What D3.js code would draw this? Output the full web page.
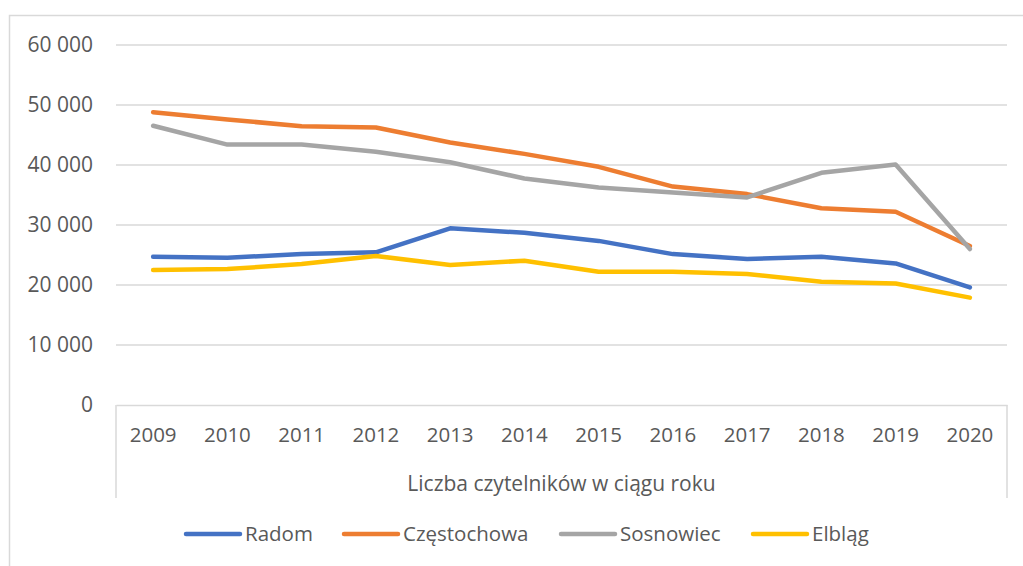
<!DOCTYPE html>
<html lang="pl">
  <head>
    <meta charset="utf-8">
    <title>Liczba czytelników</title>
    <script src="https://d3js.org/d3.v7.min.js"></script>
    <style>
      body { margin: 0; background: #fff; }
      svg text { font-family: "Open Sans", sans-serif; fill: #595959; }
    </style>
  </head>
  <body>
    <div id="chart"></div>
    <script>
      // Data
      const years = ['2009', '2010', '2011', '2012', '2013', '2014', '2015', '2016', '2017', '2018', '2019', '2020'];
      const radom = [24700, 24550, 25150, 25450, 29450, 28700, 27350, 25150, 24350, 24700, 23600, 19600];
      const czestochowa = [48800, 47600, 46450, 46250, 43750, 41850, 39700, 36400, 35150, 32800, 32200, 26500];
      const sosnowiec = [46550, 43400, 43400, 42200, 40450, 37750, 36250, 35400, 34600, 38700, 40100, 26000];
      const elblag = [22500, 22650, 23500, 24850, 23350, 24050, 22200, 22200, 21850, 20550, 20250, 17900];
      const seriesNames = ['Radom', 'Częstochowa', 'Sosnowiec', 'Elbląg'];
      const yTicks = [0, 10000, 20000, 30000, 40000, 50000, 60000];
      const groupLabel = 'Liczba czytelników w ciągu roku';

      const colors = ['#4472C4', '#ED7D31', '#A5A5A5', '#FFC000'];
      const series = [radom, czestochowa, sosnowiec, elblag];

      const W = 1023, H = 566;
      const plotLeft = 116, plotRight = 1007, plotTop = 45, plotBottom = 405;

      const svg = d3.select('#chart').append('svg')
        .attr('width', W)
        .attr('height', H);

      // chart frame (clipped by the picture on right and bottom)
      svg.append('rect')
        .attr('x', 9.5).attr('y', 15.5)
        .attr('width', 1100).attr('height', 700)
        .attr('fill', 'none')
        .attr('stroke', '#D9D9D9')
        .attr('stroke-width', 1.5);

      const x = d3.scaleBand().domain(years).range([plotLeft, plotRight]);
      const y = d3.scaleLinear().domain([0, 60000]).range([plotBottom, plotTop]);

      const fmt = d3.formatLocale({ decimal: ',', thousands: '\u00a0', grouping: [3], currency: ['', ''] }).format(',d');

      // gridlines
      svg.append('g')
        .selectAll('line')
        .data(yTicks.filter(d => d > 0))
        .enter()
          .append('line')
          .attr('x1', plotLeft).attr('x2', plotRight)
          .attr('y1', d => y(d)).attr('y2', d => y(d))
          .attr('stroke', '#D9D9D9')
          .attr('stroke-width', 1.5);

      // y axis
      const yAxis = svg.append('g')
        .attr('transform', `translate(${plotLeft},0)`)
        .call(d3.axisLeft(y).tickValues(yTicks).tickFormat(fmt).tickSize(0).tickPadding(23));
      yAxis.select('.domain').remove();
      yAxis.selectAll('text')
        .style('font-size', '21px')
        .attr('fill', '#595959');

      // x axis (multi-level category)
      const xAxis = svg.append('g')
        .attr('transform', `translate(0,${plotBottom})`)
        .call(d3.axisBottom(x).tickSize(0).tickPadding(22));
      xAxis.select('.domain')
        .attr('stroke', '#D9D9D9')
        .attr('stroke-width', 1.5);
      xAxis.selectAll('text')
        .style('font-size', '20.5px')
        .attr('fill', '#595959');

      svg.selectAll('.edge')
        .data([plotLeft, plotRight])
        .enter()
          .append('line')
          .attr('class', 'edge')
          .attr('x1', d => d).attr('x2', d => d)
          .attr('y1', plotBottom).attr('y2', 498)
          .attr('stroke', '#D9D9D9')
          .attr('stroke-width', 1.5);

      svg.append('text')
        .attr('x', (plotLeft + plotRight) / 2)
        .attr('y', 491)
        .attr('text-anchor', 'middle')
        .style('font-size', '21px')
        .text(groupLabel);

      // lines
      const line = d3.line()
        .x((d, i) => x(years[i]) + x.bandwidth() / 2)
        .y(d => y(d));

      svg.append('g')
        .selectAll('path')
        .data(series)
        .enter()
          .append('path')
          .attr('d', d => line(d))
          .attr('fill', 'none')
          .attr('stroke', (d, i) => colors[i])
          .attr('stroke-width', 4.5)
          .attr('stroke-linejoin', 'round')
          .attr('stroke-linecap', 'round');

      // legend
      const legendX = [186, 344, 561, 753];
      const leg = svg.append('g')
        .selectAll('g')
        .data(seriesNames)
        .enter()
          .append('g')
          .attr('transform', (d, i) => `translate(${legendX[i]},534)`);
      leg.append('line')
        .attr('x1', 0).attr('x2', 54)
        .attr('stroke', (d, i) => colors[i])
        .attr('stroke-width', 4.5)
        .attr('stroke-linecap', 'round');
      leg.append('text')
        .attr('x', 59)
        .attr('dy', '0.35em')
        .style('font-size', '20.5px')
        .text(d => d);
    </script>
  </body>
</html>
